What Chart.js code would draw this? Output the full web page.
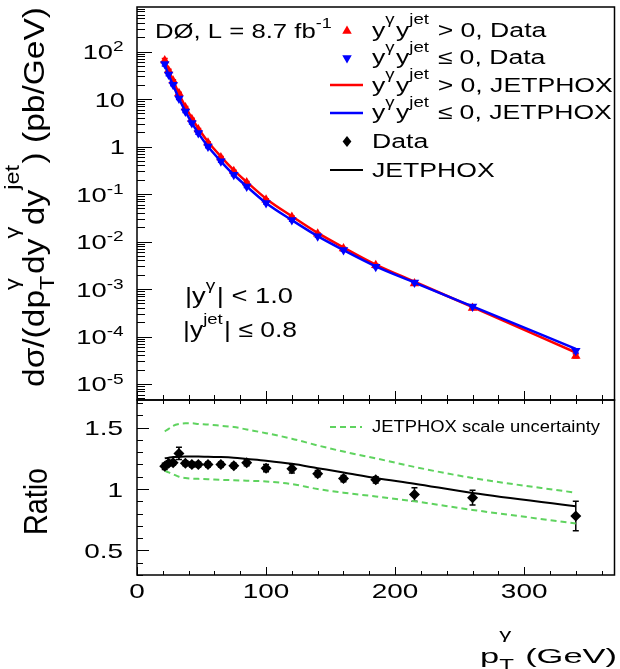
<!DOCTYPE html>
<html><head><meta charset="utf-8">
<script src="https://cdn.jsdelivr.net/npm/chart.js@4/dist/chart.umd.min.js"></script>
<style>
html,body{margin:0;padding:0;background:#fff;}
#wrap{position:relative;width:620px;height:669px;}
canvas{position:absolute;left:0;top:0;}
</style>
</head><body>
<div id="wrap"><canvas id="cTop" width="620" height="669"></canvas><canvas id="cBot" width="620" height="669"></canvas></div>
<script>
// ---------------- data ----------------
const pT = [21.5, 24.5, 28, 32.5, 37.5, 42.5, 47.5, 55, 65, 75, 85, 100, 120, 140, 160, 185, 215, 260, 340];
const xsecPosData = [65, 40, 24.3, 13.3, 6.65, 3.78, 2.30, 1.20, 0.588, 0.303, 0.176, 0.076, 0.033, 0.0146, 0.00716, 0.00317, 0.00131, 0.00040, 0.000039];
const xsecNegData = [55, 33, 20, 10.3, 5.5, 3.15, 1.92, 1.0, 0.49, 0.255, 0.145, 0.065, 0.0283, 0.0130, 0.0066, 0.00295, 0.00137, 0.00043, 0.000050];
const xsecRelErr  = [0.10, 0.06, 0.05, 0.05, 0.05, 0.05, 0.05, 0.05, 0.05, 0.05, 0.05, 0.05, 0.05, 0.05, 0.05, 0.05, 0.06, 0.07, 0.10];
const xsecPosTheory = [66, 40.8, 24.6, 13.0, 6.96, 3.98, 2.43, 1.26, 0.617, 0.320, 0.180, 0.080, 0.0341, 0.0152, 0.0075, 0.00327, 0.00143, 0.000416, 0.000046];
const xsecNegTheory = [53, 32.5, 19.5, 10.3, 5.5, 3.15, 1.92, 1.0, 0.49, 0.255, 0.145, 0.065, 0.0283, 0.0130, 0.0066, 0.0030, 0.00137, 0.00043, 0.000055];
const ratioData   = [1.185, 1.21, 1.215, 1.29, 1.21, 1.20, 1.20, 1.20, 1.20, 1.19, 1.215, 1.17, 1.165, 1.125, 1.085, 1.075, 0.955, 0.93, 0.78];
const ratioErr    = [0.025, 0.02, 0.02, 0.05, 0.02, 0.02, 0.02, 0.02, 0.02, 0.02, 0.025, 0.03, 0.035, 0.025, 0.025, 0.025, 0.055, 0.06, 0.12];
const ratioTheory = [1.25, 1.255, 1.26, 1.262, 1.265, 1.265, 1.265, 1.262, 1.26, 1.255, 1.245, 1.23, 1.205, 1.17, 1.135, 1.09, 1.043, 0.968, 0.86];
const scaleUp     = [1.47, 1.49, 1.515, 1.53, 1.535, 1.535, 1.53, 1.525, 1.515, 1.505, 1.485, 1.455, 1.41, 1.355, 1.305, 1.25, 1.18, 1.09, 0.97];
const scaleDown   = [1.15, 1.135, 1.12, 1.10, 1.09, 1.085, 1.083, 1.08, 1.075, 1.072, 1.068, 1.062, 1.04, 1.0, 0.97, 0.94, 0.90, 0.83, 0.72];
const topTickVals = [100, 10, 1, 0.1, 0.01, 0.001, 0.0001, 0.00001];
const topTickText = ['10^2', '10', '1', '10^-1', '10^-2', '10^-3', '10^-4', '10^-5'];
const ratioTickVals = [1.5, 1, 0.5];
const ratioTickText = ['1.5', '1', '0.5'];
const xTickVals = [0, 100, 200, 300];
const xTickText = ['0', '100', '200', '300'];

// ---------------- helpers ----------------
const FAM = '"Liberation Sans", Arial, sans-serif';
const RED = '#ff0000', BLUE = '#0000ff', GREEN = '#5fd35f';

function parseTick(s) {
  const i = s.indexOf('^');
  return i < 0 ? [s] : [s.slice(0, i), {sup: s.slice(i + 1)}];
}

function rich(ctx, segs, x, y, o) {
  const f = o.f, ss = o.ss || 0.7;
  const mf = f + 'px ' + FAM, sf = (f * ss).toFixed(1) + 'px ' + FAM;
  const parts = []; let W = 0;
  for (const s of segs) {
    if (typeof s === 'string') {
      ctx.font = mf; const w = ctx.measureText(s).width;
      parts.push({t: s, w}); W += w;
    } else {
      ctx.font = sf;
      const a = s.sup ? ctx.measureText(s.sup).width : 0;
      const b = s.sub ? ctx.measureText(s.sub).width : 0;
      const w = Math.max(a, b) + f * 0.05;
      parts.push({sup: s.sup, sub: s.sub, w}); W += w;
    }
  }
  const k = o.fit ? o.fit / W : (o.k || 1.33);
  ctx.save();
  ctx.translate(x, y);
  if (o.rot) ctx.rotate(o.rot);
  ctx.scale(k, 1);
  ctx.fillStyle = o.color || '#000';
  ctx.textBaseline = 'alphabetic'; ctx.textAlign = 'left';
  let cx = o.align === 'right' ? -W : (o.align === 'center' ? -W / 2 : 0);
  for (const p of parts) {
    if (p.t !== undefined) { ctx.font = mf; ctx.fillText(p.t, cx, 0); }
    else {
      ctx.font = sf;
      if (p.sup) ctx.fillText(p.sup, cx, -f * (o.up || 0.5));
      if (p.sub) ctx.fillText(p.sub, cx, f * (o.down || 0.3));
    }
    cx += p.w;
  }
  ctx.restore();
}

function line(ctx, x1, y1, x2, y2) { ctx.beginPath(); ctx.moveTo(x1, y1); ctx.lineTo(x2, y2); ctx.stroke(); }

function marker(ctx, kind, x, y, r, color) {
  ctx.save(); ctx.fillStyle = color; ctx.beginPath();
  if (kind === 'up') { ctx.moveTo(x, y - r); ctx.lineTo(x + r * 0.866, y + r * 0.5); ctx.lineTo(x - r * 0.866, y + r * 0.5); }
  else if (kind === 'down') { ctx.moveTo(x, y + r); ctx.lineTo(x + r * 0.866, y - r * 0.5); ctx.lineTo(x - r * 0.866, y - r * 0.5); }
  else { ctx.moveTo(x, y - r); ctx.lineTo(x + r * 0.8, y); ctx.lineTo(x, y + r); ctx.lineTo(x - r * 0.8, y); }
  ctx.closePath(); ctx.fill(); ctx.restore();
}

const errorBars = {
  id: 'errorBars',
  beforeDatasetsDraw(chart) {
    const {ctx, chartArea: a, scales: {x, y}} = chart;
    ctx.save();
    ctx.beginPath(); ctx.rect(a.left, a.top, a.right - a.left, a.bottom - a.top); ctx.clip();
    chart.data.datasets.forEach(ds => {
      if (!ds.errLo) return;
      ctx.strokeStyle = ds.borderColor; ctx.lineWidth = 1.5;
      ds.data.forEach((pt, i) => {
        const px = x.getPixelForValue(pt.x);
        const y1 = y.getPixelForValue(ds.errLo[i]), y2 = y.getPixelForValue(ds.errHi[i]);
        line(ctx, px, y1, px, y2);
        line(ctx, px - 3, y1, px + 3, y1);
        line(ctx, px - 3, y2, px + 3, y2);
      });
    });
    ctx.restore();
  }
};

function pts(xs, ys) { return xs.map((v, i) => ({x: v, y: ys[i]})); }

// ---------------- top panel ----------------
const topDeco = {
  id: 'topDeco',
  afterDraw(chart) {
    const {ctx, chartArea: a, scales: {x, y}} = chart;
    ctx.save();
    ctx.strokeStyle = '#000'; ctx.lineWidth = 1.5;
    ctx.strokeRect(a.left, a.top, a.right - a.left, a.bottom - a.top);
    ctx.lineWidth = 1;
    for (let e = -6; e <= 3; e++) {
      for (let m = 1; m <= 9; m++) {
        const v = m * Math.pow(10, e);
        if (v < y.min || v > y.max) continue;
        const py = Math.round(y.getPixelForValue(v)) + 0.5;
        line(ctx, a.left, py, a.left + (m === 1 ? 15 : 8), py);
      }
    }
    for (let v = 0; v <= x.max; v += 20) {
      const px = Math.round(x.getPixelForValue(v)) + 0.5;
      line(ctx, px, a.bottom, px, a.bottom - (v % 100 === 0 ? 9 : 5));
    }
    // y tick labels
    topTickVals.forEach((v, i) => {
      const py = y.getPixelForValue(v);
      rich(ctx, parseTick(topTickText[i]), 125, py + 7.5, {f: 21, k: 1.3, align: 'right', up: 0.38});
    });
    // y title
    rich(ctx, ['dσ/(dp', {sub: 'T', sup: 'γ'}, 'dy', {sup: 'γ'}, 'dy', {sup: 'jet'}, ') (pb/GeV)'],
      44, 387, {f: 29, rot: -Math.PI / 2, fit: 380, up: 0.85, down: 0.35});
    // annotations
    rich(ctx, ['DØ, L = 8.7 fb', {sup: '-1'}], 155, 38, {f: 21, fit: 178, up: 0.5});
    rich(ctx, ['|y', {sup: 'γ'}, '| < 1.0'], 185, 303, {f: 22, fit: 108, up: 0.6});
    rich(ctx, ['|y', {sup: 'jet'}, '| ≤ 0.8'], 183, 337, {f: 22, fit: 114, up: 0.6});
    // legend
    const lx = 347, tx = 372;
    marker(ctx, 'up', lx, 31, 5.5, RED);
    marker(ctx, 'down', lx, 58, 5.5, BLUE);
    ctx.lineWidth = 2.5;
    ctx.strokeStyle = RED; line(ctx, 330, 85, 363, 85);
    ctx.strokeStyle = BLUE; line(ctx, 330, 113, 363, 113);
    marker(ctx, 'diamond', lx, 141.5, 5.5, '#000');
    ctx.strokeStyle = '#000'; ctx.lineWidth = 2; line(ctx, 330, 170, 363, 170);
    const lo = {f: 20, k: 1.33, up: 0.62};
    rich(ctx, ['y', {sup: 'γ'}, 'y', {sup: 'jet'}, ' > 0, Data'], tx, 36.7, lo);
    rich(ctx, ['y', {sup: 'γ'}, 'y', {sup: 'jet'}, ' ≤ 0, Data'], tx, 64, lo);
    rich(ctx, ['y', {sup: 'γ'}, 'y', {sup: 'jet'}, ' > 0, JETPHOX'], tx, 91.7, lo);
    rich(ctx, ['y', {sup: 'γ'}, 'y', {sup: 'jet'}, ' ≤ 0, JETPHOX'], tx, 119.3, lo);
    rich(ctx, ['Data'], tx, 148.3, lo);
    rich(ctx, ['JETPHOX'], tx, 176.7, lo);
    ctx.restore();
  }
};

new Chart(document.getElementById('cTop'), {
  type: 'scatter',
  data: {
    datasets: [
      {label: 'yγyjet > 0, JETPHOX', data: pts(pT, xsecPosTheory), showLine: true, borderColor: RED, backgroundColor: RED,
        borderWidth: 2.5, pointRadius: 0, cubicInterpolationMode: 'monotone', order: 4},
      {label: 'yγyjet > 0, Data', data: pts(pT, xsecPosData), showLine: false, pointStyle: 'triangle', pointRadius: 5.5,
        backgroundColor: RED, borderColor: RED, borderWidth: 0, order: 3,
        errLo: xsecPosData.map((v, i) => v * (1 - xsecRelErr[i])), errHi: xsecPosData.map((v, i) => v * (1 + xsecRelErr[i]))},
      {label: 'yγyjet ≤ 0, JETPHOX', data: pts(pT, xsecNegTheory), showLine: true, borderColor: BLUE, backgroundColor: BLUE,
        borderWidth: 2.5, pointRadius: 0, cubicInterpolationMode: 'monotone', order: 2},
      {label: 'yγyjet ≤ 0, Data', data: pts(pT, xsecNegData), showLine: false, pointStyle: 'triangle', rotation: 180, pointRadius: 5.5,
        backgroundColor: BLUE, borderColor: BLUE, borderWidth: 0, order: 1,
        errLo: xsecNegData.map((v, i) => v * (1 - xsecRelErr[i])), errHi: xsecNegData.map((v, i) => v * (1 + xsecRelErr[i]))}
    ]
  },
  options: {
    responsive: false, animation: false, events: [],
    layout: {padding: {left: 137, right: 5, top: 7, bottom: 269}},
    scales: {
      x: {type: 'linear', min: 0, max: 370, display: false},
      y: {type: 'logarithmic', min: 4.6e-6, max: 870, display: false}
    },
    plugins: {legend: {display: false}, tooltip: {enabled: false}}
  },
  plugins: [errorBars, topDeco]
});

// ---------------- ratio panel ----------------
const botDeco = {
  id: 'botDeco',
  afterDraw(chart) {
    const {ctx, chartArea: a, scales: {x, y}} = chart;
    ctx.save();
    ctx.strokeStyle = '#000'; ctx.lineWidth = 1.5;
    ctx.strokeRect(a.left, a.top, a.right - a.left, a.bottom - a.top);
    ctx.lineWidth = 1;
    for (let i = 3; i <= 17; i++) {
      const v = i / 10;
      if (v < y.min || v > y.max) continue;
      const py = Math.round(y.getPixelForValue(v)) + 0.5;
      line(ctx, a.left, py, a.left + (i % 5 === 0 ? 12 : 6), py);
    }
    for (let v = 0; v <= x.max; v += 20) {
      const px = Math.round(x.getPixelForValue(v)) + 0.5;
      const L = v % 100 === 0 ? 8 : 4;
      line(ctx, px, a.bottom, px, a.bottom - L);
      line(ctx, px, a.top, px, a.top + 4);
    }
    ratioTickVals.forEach((v, i) => {
      rich(ctx, parseTick(ratioTickText[i]), 123, y.getPixelForValue(v) + 7.5, {f: 21, k: 1.33, align: 'right'});
    });
    xTickVals.forEach((v, i) => {
      rich(ctx, parseTick(xTickText[i]), x.getPixelForValue(v), 598, {f: 21, k: 1.33, align: 'center'});
    });
    rich(ctx, ['p', {sub: 'T', sup: 'γ'}, ' (GeV)'], 617, 663, {f: 21, fit: 137, align: 'right', up: 1.15, down: 0.3});
    rich(ctx, ['Ratio'], 46.5, 501.5, {f: 33, fit: 67, align: 'center', rot: -Math.PI / 2});
    ctx.strokeStyle = GREEN; ctx.lineWidth = 2; ctx.setLineDash([6, 4]);
    line(ctx, 330, 427, 362, 427);
    ctx.setLineDash([]);
    rich(ctx, ['JETPHOX scale uncertainty'], 372, 432.3, {f: 16, fit: 228});
    ctx.restore();
  }
};

new Chart(document.getElementById('cBot'), {
  type: 'scatter',
  data: {
    datasets: [
      {label: 'JETPHOX scale uncertainty', data: pts(pT, scaleUp), showLine: true, borderColor: GREEN, borderWidth: 2,
        borderDash: [6, 4], pointRadius: 0, cubicInterpolationMode: 'monotone', order: 4},
      {label: 'JETPHOX scale uncertainty (low)', data: pts(pT, scaleDown), showLine: true, borderColor: GREEN, borderWidth: 2,
        borderDash: [6, 4], pointRadius: 0, cubicInterpolationMode: 'monotone', order: 3},
      {label: 'JETPHOX', data: pts(pT, ratioTheory), showLine: true, borderColor: '#000', borderWidth: 2,
        pointRadius: 0, cubicInterpolationMode: 'monotone', order: 2},
      {label: 'Data', data: pts(pT, ratioData), showLine: false, pointStyle: 'rectRot', pointRadius: 5.5,
        backgroundColor: '#000', borderColor: '#000', borderWidth: 0, order: 1,
        errLo: ratioData.map((v, i) => v - ratioErr[i]), errHi: ratioData.map((v, i) => v + ratioErr[i])}
    ]
  },
  options: {
    responsive: false, animation: false, events: [],
    layout: {padding: {left: 137, right: 5, top: 400, bottom: 94}},
    scales: {
      x: {type: 'linear', min: 0, max: 370, display: false},
      y: {type: 'linear', min: 0.3, max: 1.725, display: false}
    },
    plugins: {legend: {display: false}, tooltip: {enabled: false}}
  },
  plugins: [errorBars, botDeco]
});
</script>
</body></html>
